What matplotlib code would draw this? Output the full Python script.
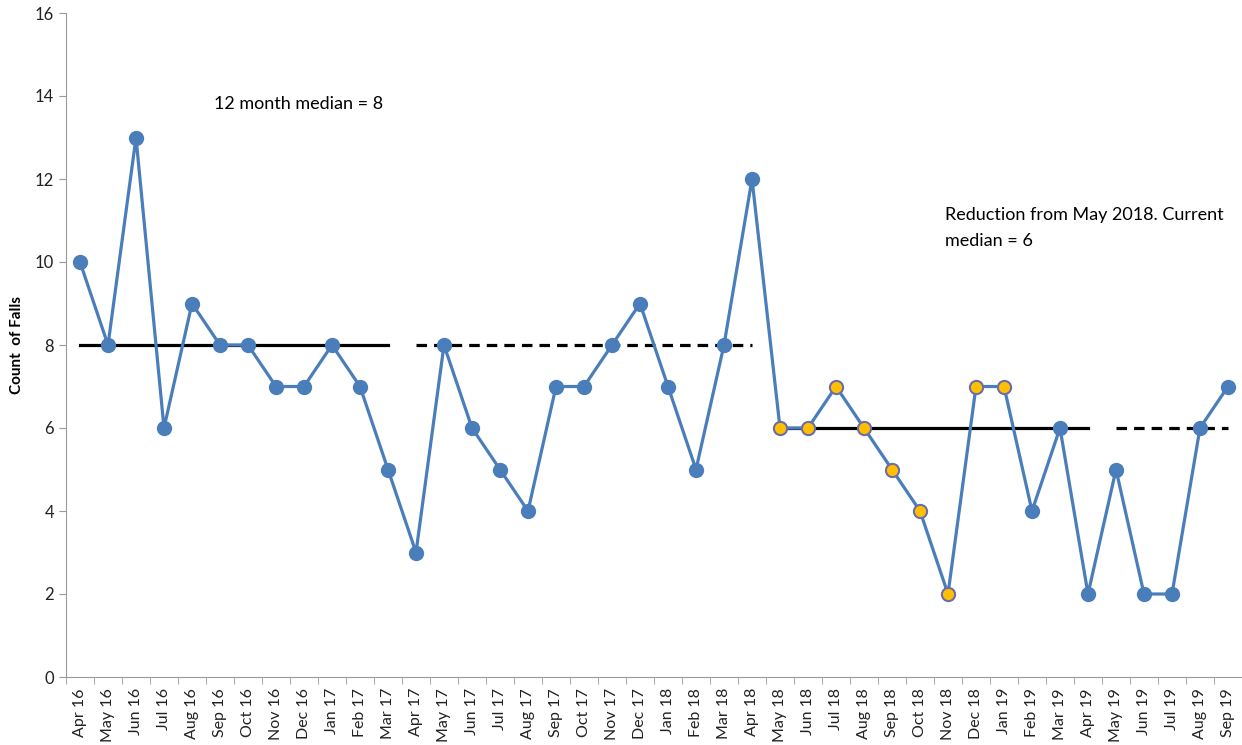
import matplotlib
matplotlib.use("Agg")
import matplotlib.pyplot as plt
import numpy as np

months = ["Apr 16", "May 16", "Jun 16", "Jul 16", "Aug 16", "Sep 16", "Oct 16", "Nov 16", "Dec 16",
          "Jan 17", "Feb 17", "Mar 17", "Apr 17", "May 17", "Jun 17", "Jul 17", "Aug 17", "Sep 17",
          "Oct 17", "Nov 17", "Dec 17", "Jan 18", "Feb 18", "Mar 18", "Apr 18", "May 18", "Jun 18",
          "Jul 18", "Aug 18", "Sep 18", "Oct 18", "Nov 18", "Dec 18", "Jan 19", "Feb 19", "Mar 19",
          "Apr 19", "May 19", "Jun 19", "Jul 19", "Aug 19", "Sep 19"]
falls = [10, 8, 13, 6, 9, 8, 8, 7, 7, 8, 7, 5, 3, 8, 6, 5, 4, 7, 7, 8, 9, 7, 5, 8, 12,
         6, 6, 7, 6, 5, 4, 2, 7, 7, 4, 6, 2, 5, 2, 2, 6, 7]
# run of points highlighted (May 18 - Jan 19)
highlight = ["May 18", "Jun 18", "Jul 18", "Aug 18", "Sep 18", "Oct 18", "Nov 18", "Dec 18", "Jan 19"]

# median segments: (first month, last month, value, style)
medians = [("Apr 16", "Mar 17", 8, "-"),
           ("Apr 17", "Apr 18", 8, "--"),
           ("May 18", "Apr 19", 6, "-"),
           ("May 19", "Sep 19", 6, "--")]

plt.rcParams['font.family'] = ['Lato', 'DejaVu Sans']

x = np.arange(len(months))
fig = plt.figure(figsize=(12.42, 7.45), dpi=100)
ax = fig.add_axes([66 / 1242, 68 / 745, 1176 / 1242, 664 / 745])

for start, end, val, ls in medians:
    i0, i1 = months.index(start), months.index(end)
    ax.plot([i0, i1], [val, val], color="black", lw=2.3, ls=ls, zorder=2,
            dashes=(3.3, 2.2) if ls == "--" else (None, None))

ax.plot(x, falls, color="#4A7EBB", lw=2.3, marker="o", markersize=10, zorder=3)
hx = [months.index(m) for m in highlight]
ax.plot(hx, [falls[i] for i in hx], ls="none", marker="o", markersize=9,
        markerfacecolor="#FFC000", markeredgecolor="#8064A2", markeredgewidth=1, zorder=4)

ax.set_xlim(-0.5, len(months) - 0.5)
ax.set_ylim(0, 16)
ax.set_yticks(range(0, 17, 2))
ax.set_xticks(x)
ax.set_xticklabels(months, rotation=90, fontsize=11.5, color="#222222")
ax.set_xticks(np.arange(-0.5, len(months), 1), minor=True)
ax.tick_params(axis="x", which="major", length=0, pad=8)
ax.tick_params(axis="x", which="minor", length=5, color="#999999")
ax.tick_params(axis="y", length=5, color="#999999", labelsize=12, labelcolor="#222222")

for s in ["top", "right"]:
    ax.spines[s].set_visible(False)
for s in ["left", "bottom"]:
    ax.spines[s].set_color("#999999")

ax.set_ylabel("Count  of Falls", fontsize=11, fontweight="bold")
ax.yaxis.set_label_coords(-0.036, 0.5)

ax.text(4.8, 13.8, "12 month median = 8", fontsize=13, va="center")
ax.text(30.9, 11.33, "Reduction from May 2018. Current\nmedian = 6", fontsize=13, va="top",
        linespacing=1.75)

fig.savefig("out.png", dpi=100)
